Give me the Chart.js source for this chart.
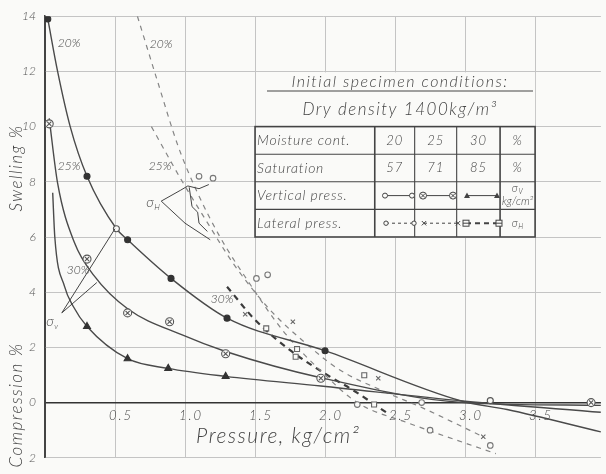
<!DOCTYPE html>
<html lang="en">
<head>
<meta charset="UTF-8" />
<title>Swelling / compression vs pressure</title>
<script src="https://cdn.jsdelivr.net/npm/chart.js"></script>
<style>
  html, body { margin: 0; padding: 0; background: #fafaf8; }
  #wrap { width: 606px; height: 474px; }
</style>
</head>
<body>
<div id="wrap"><canvas id="chart" width="606" height="474"></canvas></div>
<script>
// vertical pressure (solid curves), moisture 20 / 25 / 30 %
const vert20X = [0.02, 0.09, 0.18, 0.30, 0.51, 0.59, 0.90, 1.30, 2.00, 2.98, 3.30, 3.97];
const vert20Y = [13.9, 12.0, 10.0, 8.2, 6.3, 5.9, 4.5, 3.06, 1.88, 0.05, -0.25, -1.06];
const vert25X = [0.03, 0.09, 0.21, 0.35, 0.59, 0.98, 1.29, 1.97, 3.00, 3.97];
const vert25Y = [10.3, 7.95, 5.8, 4.6, 3.4, 2.45, 1.85, 0.9, 0.0, -0.1];
const vert30X = [0.055, 0.07, 0.14, 0.20, 0.30, 0.59, 0.88, 1.29, 1.97, 3.00, 3.97];
const vert30Y = [7.6, 6.0, 4.2, 3.5, 2.76, 1.59, 1.24, 0.95, 0.6, 0.05, -0.35];

// lateral pressure (dashed curves)
const lat20X = [0.66, 0.80, 0.95, 1.08, 1.25, 1.45, 1.70, 2.00, 2.23, 2.60, 3.22];
const lat20Y = [14.0, 11.7, 9.3, 7.7, 6.0, 4.4, 2.6, 1.0, 0.0, -0.75, -1.85];
const lat25X = [0.76, 0.97, 1.15, 1.35, 1.60, 1.85, 2.10, 2.40, 2.70, 3.13];
const lat25Y = [10.0, 8.1, 6.6, 5.0, 3.4, 2.2, 1.2, 0.45, -0.2, -1.24];
const lat30X = [1.30, 1.50, 1.75, 2.00, 2.20, 2.45];
const lat30Y = [4.2, 3.0, 1.9, 1.05, 0.45, -0.4];

// measured points
const mV20X = [0.02, 0.30, 0.59, 0.90, 1.30, 2.00];
const mV20Y = [13.9, 8.2, 5.9, 4.5, 3.06, 1.88];
const mV20oX = [0.51, 3.18];
const mV20oY = [6.3, 0.07];
const mV25X = [0.03, 0.30, 0.59, 0.89, 1.29, 1.97, 3.90];
const mV25Y = [10.1, 5.2, 3.25, 2.93, 1.77, 0.88, 0.0];
const mV30X = [0.30, 0.59, 0.88, 1.29];
const mV30Y = [2.76, 1.59, 1.24, 0.95];
const mL20X = [1.10, 1.20, 1.51, 1.59, 2.23, 2.69, 2.75, 3.18];
const mL20Y = [8.2, 8.13, 4.5, 4.63, -0.07, 0.0, -1.0, -1.55];
const mL25X = [1.43, 1.77, 2.38, 3.13];
const mL25Y = [3.2, 2.93, 0.88, -1.24];
const mL30X = [1.58, 1.80, 1.79, 2.28, 2.35];
const mL30Y = [2.69, 1.94, 1.66, 0.99, -0.07];

// axis ticks
const xTicks = [0, 0.5, 1.0, 1.5, 2.0, 2.5, 3.0, 3.5];
const xTickLabels = ['', '0.5', '1.0', '1.5', '2.0', '2.5', '3.0', '3.5'];
const yTicks = [-2, 0, 2, 4, 6, 8, 10, 12, 14];

// table
const moisture = ['20', '25', '30'];
const saturation = ['57', '71', '85'];
const rowLabels = ['Moisture cont.', 'Saturation', 'Vertical press.', 'Lateral press.'];

const INK = '#444';
const PAPER = '#fafaf8';
const F = "Lato, 'Open Sans', sans-serif";
const pts = (xs, ys) => xs.map((x, i) => ({ x: x, y: ys[i] }));

function solid(xs, ys) {
  return { type: 'line', data: pts(xs, ys), borderColor: '#4a4a4a', borderWidth: 1.4,
    pointRadius: 0, cubicInterpolationMode: 'monotone', fill: false };
}
function dashed(xs, ys, heavy) {
  return { type: 'line', data: pts(xs, ys), borderColor: heavy ? '#3c3c3c' : '#858585',
    borderWidth: heavy ? 2.2 : 1.2, borderDash: heavy ? [6, 5] : [5, 5],
    pointRadius: 0, cubicInterpolationMode: 'monotone', fill: false };
}
function marks(xs, ys, style, r, fill, stroke) {
  return { type: 'scatter', data: pts(xs, ys), pointStyle: style, pointRadius: r,
    backgroundColor: fill, borderColor: stroke, borderWidth: 1.1, showLine: false };
}

// annotation strokes (data coords)
const sigVA = [[0.12, 3.25], [0.50, 6.3]];
const sigVB = [[0.12, 3.25], [0.37, 4.35]];
const sigHA = [[0.83, 7.3], [0.97, 7.7], [1.02, 7.85], [1.1, 7.75], [1.17, 7.9]];
const sigHB = [[0.83, 7.3], [1.0, 6.5], [1.12, 6.1], [1.18, 5.9]];
const sigHC = [[1.03, 7.8], [1.05, 7.1], [1.09, 6.9], [1.1, 6.5], [1.16, 6.2]];

const decor = {
  id: 'decor',
  beforeDatasetsDraw(chart) {
    const { ctx, scales: { x, y } } = chart;
    ctx.save();
    ctx.fillStyle = PAPER;
    ctx.fillRect(x.getPixelForValue(1.5) + 1, y.getPixelForValue(12) + 1,
      x.getPixelForValue(3.5) - x.getPixelForValue(1.5) - 1, y.getPixelForValue(6) - y.getPixelForValue(12));
    ctx.restore();
  },
  afterDraw(chart) {
    const { ctx, scales: { x, y } } = chart;
    const X = v => x.getPixelForValue(v), Y = v => y.getPixelForValue(v);
    ctx.save();
    ctx.fillStyle = INK;
    ctx.strokeStyle = INK;

    // table frame
    const cols = [1.5, 2.355, 2.64, 2.94, 3.25, 3.5];
    const rows = [10, 9, 8, 7, 6];
    ctx.lineWidth = 1.6;
    ctx.strokeRect(X(1.5), Y(10), X(3.5) - X(1.5), Y(6) - Y(10));
    ctx.lineWidth = 1.1;
    rows.slice(1, -1).forEach(r => { ctx.beginPath(); ctx.moveTo(X(1.5), Y(r)); ctx.lineTo(X(3.5), Y(r)); ctx.stroke(); });
    cols.slice(1, -1).forEach((c, i) => {
      ctx.lineWidth = i === 0 || i === 3 ? 1.6 : 1.1;
      ctx.beginPath(); ctx.moveTo(X(c), Y(10)); ctx.lineTo(X(c), Y(6)); ctx.stroke();
    });

    // titles above table
    ctx.textAlign = 'center';
    ctx.textBaseline = 'alphabetic';
    ctx.letterSpacing = '1.5px';
    ctx.font = 'italic 300 16px ' + F;
    ctx.fillText('Initial specimen conditions:', 400, 87);
    ctx.lineWidth = 1;
    ctx.beginPath(); ctx.moveTo(267, 91); ctx.lineTo(533, 91); ctx.stroke();
    ctx.font = 'italic 300 17px ' + F;
    ctx.fillText('Dry density 1400kg/m³', 400, 115);

    // table text
    ctx.letterSpacing = '0.8px';
    ctx.font = 'italic 300 14px ' + F;
    ctx.textBaseline = 'middle';
    ctx.textAlign = 'left';
    rowLabels.forEach((t, i) => ctx.fillText(t, X(1.5) + 2, (Y(rows[i]) + Y(rows[i + 1])) / 2));
    ctx.textAlign = 'center';
    const mid = i => (X(cols[i]) + X(cols[i + 1])) / 2;
    const rmid = i => (Y(rows[i]) + Y(rows[i + 1])) / 2;
    ctx.font = 'italic 300 13px ' + F;
    moisture.forEach((t, i) => ctx.fillText(t, mid(i + 1), rmid(0)));
    saturation.forEach((t, i) => ctx.fillText(t, mid(i + 1), rmid(1)));
    ctx.fillText('%', mid(4), rmid(0));
    ctx.fillText('%', mid(4), rmid(1));
    ctx.letterSpacing = '0px';
    ctx.font = 'italic 300 11px ' + F;
    ctx.fillText('σ', mid(4) - 3, rmid(2) - 7);
    ctx.font = 'italic 300 7px ' + F;
    ctx.fillText('V', mid(4) + 3, rmid(2) - 4);
    ctx.font = 'italic 300 11px ' + F;
    ctx.fillText('kg/cm²', mid(4), rmid(2) + 6);
    ctx.fillText('σ', mid(4) - 3, rmid(3));
    ctx.font = 'italic 300 7px ' + F;
    ctx.fillText('H', mid(4) + 3, rmid(3) + 4);

    // legend glyphs
    const gy1 = rmid(2), gy2 = rmid(3);
    const seg = (a, b, yy, dash, w) => {
      ctx.save(); ctx.setLineDash(dash); ctx.lineWidth = w;
      ctx.beginPath(); ctx.moveTo(a, yy); ctx.lineTo(b, yy); ctx.stroke(); ctx.restore();
    };
    const circ = (cx, cy, r, filled) => {
      ctx.beginPath(); ctx.arc(cx, cy, r, 0, Math.PI * 2);
      if (filled) ctx.fill(); else { ctx.fillStyle = PAPER; ctx.fill(); ctx.fillStyle = INK; ctx.stroke(); }
    };
    const xmark = (cx, cy, r) => {
      ctx.beginPath(); ctx.moveTo(cx - r, cy - r); ctx.lineTo(cx + r, cy + r);
      ctx.moveTo(cx + r, cy - r); ctx.lineTo(cx - r, cy + r); ctx.stroke();
    };
    const tri = (cx, cy, r) => {
      ctx.beginPath(); ctx.moveTo(cx, cy - r); ctx.lineTo(cx + r, cy + r * 0.8); ctx.lineTo(cx - r, cy + r * 0.8); ctx.closePath(); ctx.fill();
    };
    const sq = (cx, cy, r) => {
      ctx.fillStyle = PAPER; ctx.fillRect(cx - r, cy - r, 2 * r, 2 * r); ctx.fillStyle = INK;
      ctx.strokeRect(cx - r, cy - r, 2 * r, 2 * r);
      ctx.beginPath(); ctx.moveTo(cx - r, cy); ctx.lineTo(cx + r, cy); ctx.stroke();
    };
    ctx.lineWidth = 1;
    seg(385, 412, gy1, [], 1); circ(385, gy1, 2.5, false); circ(412, gy1, 2.5, false);
    seg(423, 453, gy1, [], 1); circ(423, gy1, 3.5, false); xmark(423, gy1, 2); circ(453, gy1, 3.5, false); xmark(453, gy1, 2);
    seg(467, 497, gy1, [], 1); tri(467, gy1, 3); tri(497, gy1, 3);
    seg(386, 414, gy2, [3, 3], 1); circ(386, gy2, 2.2, false); circ(414, gy2, 2.2, false);
    seg(424, 458, gy2, [3, 3], 1); xmark(424, gy2, 2.2); xmark(458, gy2, 2.2);
    seg(466, 499, gy2, [5, 4], 2); sq(466, gy2, 3); sq(499, gy2, 3);

    // annotation strokes
    ctx.lineWidth = 1;
    [sigVA, sigVB, sigHA, sigHB, sigHC].forEach(line => {
      ctx.beginPath();
      line.forEach((p, i) => i ? ctx.lineTo(X(p[0]), Y(p[1])) : ctx.moveTo(X(p[0]), Y(p[1])));
      ctx.stroke();
    });

    // curve labels
    ctx.font = 'italic 300 12px ' + F;
    ctx.textAlign = 'center';
    ctx.fillText('20%', 69, 43);
    ctx.fillText('20%', 161, 44);
    ctx.fillText('25%', 69, 166);
    ctx.fillText('25%', 160, 166);
    ctx.fillText('30%', 78, 270);
    ctx.fillText('30%', 222, 299);
    ctx.font = 'italic 300 14px ' + F;
    ctx.fillText('σ', 50, 321);
    ctx.fillText('σ', 150, 202);
    ctx.font = 'italic 300 8px ' + F;
    ctx.fillText('v', 56, 326);
    ctx.fillText('H', 157, 207);

    // x tick labels sitting under the zero line
    ctx.font = 'italic 300 13px ' + F;
    ctx.letterSpacing = '2px';
    xTicks.forEach((v, i) => { if (xTickLabels[i]) ctx.fillText(xTickLabels[i], X(v) + 6, Y(0) + 13); });

    // axis titles
    ctx.letterSpacing = '1.5px';
    ctx.font = 'italic 300 21px ' + F;
    ctx.textAlign = 'left';
    ctx.textBaseline = 'alphabetic';
    ctx.fillText('Pressure, kg/cm²', 196, 443);
    ctx.font = 'italic 300 17px ' + F;
    ctx.textAlign = 'center';
    ctx.textBaseline = 'middle';
    ctx.translate(17, 168); ctx.rotate(-Math.PI / 2); ctx.fillText('Swelling %', 0, 0);
    ctx.setTransform(1, 0, 0, 1, 0, 0);
    ctx.translate(17, 405); ctx.rotate(-Math.PI / 2); ctx.fillText('Compression %', 0, 0);
    ctx.restore();
  }
};

// Chart.js draws the first dataset on top, so the marks come first
new Chart(document.getElementById('chart'), {
  type: 'line',
  data: {
    datasets: [
      marks(mV25X, mV25Y, 'crossRot', 3, '#555', '#555'),
      marks(mV25X, mV25Y, 'circle', 4, PAPER, '#555'),
      marks(mV20X, mV20Y, 'circle', 3, '#333', '#333'),
      marks(mV20oX, mV20oY, 'circle', 3, PAPER, '#555'),
      marks(mV30X, mV30Y, 'triangle', 4, '#333', '#333'),
      marks(mL20X, mL20Y, 'circle', 2.8, PAPER, '#777'),
      marks(mL25X, mL25Y, 'crossRot', 3, '#666', '#666'),
      marks(mL30X, mL30Y, 'rect', 3.5, PAPER, '#666'),
      solid(vert20X, vert20Y), solid(vert25X, vert25Y), solid(vert30X, vert30Y),
      dashed(lat20X, lat20Y, false), dashed(lat25X, lat25Y, false), dashed(lat30X, lat30Y, true)
    ]
  },
  options: {
    responsive: false,
    devicePixelRatio: 1,
    animation: false,
    layout: { padding: { top: 15, bottom: 7, left: 0, right: 0 } },
    plugins: { legend: { display: false }, tooltip: { enabled: false } },
    scales: {
      x: {
        type: 'linear', min: 0, max: 3.97,
        afterBuildTicks: s => { s.ticks = xTicks.map(v => ({ value: v })); },
        afterFit: s => { s.height = 0; },
        ticks: { display: false },
        border: { display: false },
        grid: { drawTicks: false, color: c => c.tick && c.tick.value === 0 ? INK : '#c4c4c4', lineWidth: 1 }
      },
      y: {
        type: 'linear', min: -2, max: 14,
        afterBuildTicks: s => { s.ticks = yTicks.map(v => ({ value: v })); },
        afterFit: s => { s.width = 45; },
        ticks: { callback: v => String(Math.abs(v)), color: '#555', padding: 9,
          font: { family: F, style: 'italic', size: 12, weight: 300 } },
        border: { display: true, color: INK, width: 1.5 },
        grid: { drawTicks: false, color: c => c.tick && c.tick.value === 0 ? '#333' : '#c4c4c4',
          lineWidth: c => c.tick && c.tick.value === 0 ? 1.6 : 1 }
      }
    }
  },
  plugins: [decor]
});
</script>
</body>
</html>
